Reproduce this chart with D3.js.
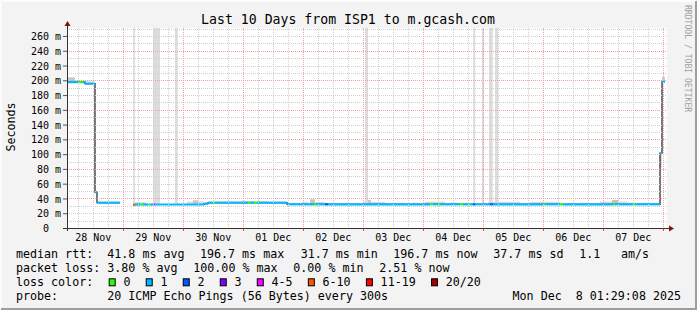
<!DOCTYPE html>
<html>
<head>
<meta charset="utf-8">
<script src="https://cdn.jsdelivr.net/npm/d3@7"></script>
<style>
  body { margin: 0; background: #f3f3f3; }
  svg { display: block; }
  text { font-family: "DejaVu Sans Mono", monospace; white-space: pre; }
</style>
</head>
<body>
<svg id="chart" width="697" height="310"></svg>
<script>
// smokeping style graph, last 10 days

const END_TIME = Date.UTC(2025, 11, 8, 1, 29, 8);
const START_TIME = END_TIME - 10 * 24 * 3600e3;

// median rtt as steps: hours since start, value in ms (null = no data), loss bucket
const stepHours  = [0, 4.8, 6.4, 7.2, 11.2, 12.0, 21.2, 26.4, 27.2, 29.2, 30.4, 32.4, 33.2, 34.4, 35.2,
                    54.8, 56.4, 58.4, 59.2, 72.4, 73.2, 74.8, 76.0, 88.0, 98.8, 99.6, 103.2, 104.4,
                    145.2, 146.4, 148.4, 149.2, 157.2, 158.4, 160.4, 161.2, 162.4, 163.2, 169.2, 170.4,
                    190.4, 191.2, 197.2, 198.4, 218.4, 219.2, 226.4, 227.2, 237.2, 238.0, 239.2];
const stepMedian = [197.5, 197.5, 197.5, 195.5, 48.5, 34.3, null, 31.5, 31.8, 31.8, 31.8, 31.8, 31.8, 31.8, 31.8,
                    33.0, 34.3, 34.3, 34.3, 34.3, 34.3, 34.3, 34.3, 32.1, 32.1, 32.1, 32.1, 32.1,
                    32.1, 32.1, 32.1, 32.1, 32.1, 32.1, 32.1, 32.1, 32.1, 32.1, 32.1, 32.1,
                    32.1, 32.1, 32.1, 32.1, 32.1, 32.1, 32.1, 32.1, 101.5, 198, null];
const stepLoss   = [1, 0, 1, 1, 1, 1, 1, 5, 1, 0, 1, 0, 1, 4, 1,
                    1, 1, 0, 1, 0, 1, 0, 1, 1, 0, 1, 2, 1,
                    0, 1, 0, 1, 0, 1, 0, 1, 2, 1, 2, 1,
                    0, 1, 0, 1, 0, 1, 0, 1, 1, 1, 1];

// smoke: [from hour, to hour, low ms, high ms, grey]
const smoke = [
  [0, 3.2, 197.5, 204, "#c8c8c8"], [3.2, 11.2, 197, 200, "#e2e2e2"],
  [26.4, 31.6, 31.8, 35, "#d8d8d8"], [26.5, 27.2, 33, 1000, "#dcdcdc"],
  [34.4, 37.2, 33, 1000, "#dcdcdc"], [43.2, 44.3, 33, 1000, "#dcdcdc"],
  [48, 54.8, 31.8, 36, "#e0e0e0"], [50.4, 52.4, 33, 37.5, "#c8c8c8"],
  [70, 80, 34.3, 36.5, "#e4e4e4"],
  [93.9, 96.5, 32.1, 35.6, "#e0e0e0"], [97.2, 99.2, 32.1, 38.9, "#c4c4c4"],
  [99.2, 103.2, 32.1, 35.4, "#d8d8d8"], [118.4, 127.2, 32.1, 35.5, "#dcdcdc"],
  [119.2, 121.6, 32.1, 38, "#c8c8c8"], [119.2, 120.4, 33, 1000, "#dcdcdc"],
  [133.2, 134.4, 32.1, 34.5, "#e4e4e4"], [138.4, 140, 32.1, 34.5, "#e4e4e4"],
  [143.2, 151.2, 32.1, 35.6, "#d6d6d6"], [153.2, 156, 32.1, 34.5, "#e4e4e4"],
  [162.5, 163.3, 33, 1000, "#dcdcdc"], [166, 166.8, 33, 1000, "#dcdcdc"],
  [168.8, 170.3, 33, 1000, "#dcdcdc"], [171.2, 172.4, 33, 1000, "#dcdcdc"],
  [168.4, 181.2, 32.1, 35.6, "#dadada"], [185.2, 197.2, 32.1, 35.6, "#dcdcdc"],
  [205.2, 207.2, 32.1, 34.5, "#e4e4e4"], [213.2, 224, 32.1, 36, "#dcdcdc"],
  [218, 220.4, 32.1, 38, "#c0c0c0"], [222.4, 226.4, 32.1, 34.5, "#e4e4e4"],
  [230.4, 232, 32.1, 34.5, "#e4e4e4"],
  [237.2, 238.0, 82, 100, "#dedede"], [238.0, 239.2, 198, 205, "#d0d0d0"]
];

const lossLabels = ["0", "1", "2", "3", "4-5", "6-10", "11-19", "20/20"];
const lossColors = ["#26ff00", "#00b8ff", "#0059ff", "#7e00ff", "#ff00ff", "#ff5500", "#ff0000", "#a10000"];

const Y_MAX = 270.8;
const yLabelTicks = d3.range(0, 261, 20);

const TITLE = "Last 10 Days from ISP1 to m.gcash.com";
const legendRows = [
  [["median rtt:", 16], ["41.8 ms avg", 107.3], ["196.7 ms max", 200], ["31.7 ms min", 300.7],
   ["196.7 ms now", 393.3], ["37.7 ms sd", 493.3], ["1.1", 579.3], ["am/s", 621]],
  [["packet loss:", 16], ["3.80 % avg", 107.3], ["100.00 % max", 193.3], ["0.00 % min", 293.3],
   ["2.51 % now", 379.3]],
  [["loss color:", 16]],
  [["probe:", 16], ["20 ICMP Echo Pings (56 Bytes) every 300s", 107.3]]
];
const DATE_STAMP = "Mon Dec  8 01:29:08 2025";

// layout
const X0 = 67, X1 = 667, Y0 = 228, Y1 = 28;
const CHAR_W = 7.02;
const LEGEND_FONT = "11.67px";
const AXIS_FONT = "10px";
const ROW_Y = [258.3, 272.2, 286, 300];

const svg = d3.select('#chart');
const hourDate = h => new Date(START_TIME + h * 3600e3);
const x = d3.scaleUtc().domain([START_TIME, END_TIME]).range([X0, X1]);
const y = d3.scaleLinear().domain([0, Y_MAX]).range([Y0, Y1]);
const crisp = v => Math.round(v) + 0.5;

// frame
svg.append('rect').attr('width', 697).attr('height', 310).attr('fill', '#f3f3f3');
svg.append('path').attr('d', 'M1,309V1H696').attr('fill', 'none').attr('stroke', '#fcfcfc').attr('stroke-width', 2);
svg.append('path').attr('d', 'M1,309H696V1').attr('fill', 'none').attr('stroke', '#9e9e9e').attr('stroke-width', 2);

// canvas
svg.append('rect').attr('x', X0).attr('y', Y1).attr('width', X1 - X0).attr('height', Y0 - Y1).attr('fill', '#ffffff');
svg.append('clipPath').attr('id', 'plotclip')
  .append('rect').attr('x', X0).attr('y', Y1).attr('width', X1 - X0).attr('height', Y0 - Y1);

const plot = svg.append('g').attr('clip-path', 'url(#plotclip)');

// smoke
plot.selectAll('.smoke')
  .data(smoke)
  .enter()
  .append('rect')
  .attr('class', 'smoke')
  .attr('x', d => x(hourDate(d[0])))
  .attr('width', d => x(hourDate(d[1])) - x(hourDate(d[0])))
  .attr('y', d => y(d[3]))
  .attr('height', d => y(d[2]) - y(d[3]))
  .attr('fill', d => d[4]);

// grid
const grid = svg.append('g').attr('stroke-dasharray', '1,1').attr('shape-rendering', 'crispEdges');
const dayTicks = d3.utcDay.range(new Date(START_TIME), new Date(END_TIME));
const minorTimes = d3.utcHour.every(6).range(new Date(START_TIME), new Date(END_TIME))
  .filter(t => t.getUTCHours() !== 0);

grid.selectAll('.vminor').data(minorTimes).enter().append('line')
  .attr('x1', d => crisp(x(d))).attr('x2', d => crisp(x(d)))
  .attr('y1', Y1).attr('y2', Y0)
  .attr('stroke', '#cfcfcf');

const hMinor = d3.range(10, 271, 10).filter(v => v % 40 !== 0);
grid.selectAll('.hminor').data(hMinor).enter().append('line')
  .attr('x1', X0).attr('x2', X1)
  .attr('y1', d => crisp(y(d))).attr('y2', d => crisp(y(d)))
  .attr('stroke', '#cfcfcf');

grid.selectAll('.vmajor').data(dayTicks).enter().append('line')
  .attr('x1', d => crisp(x(d))).attr('x2', d => crisp(x(d)))
  .attr('y1', Y1).attr('y2', Y0)
  .attr('stroke', '#f2a0a0');

grid.selectAll('.hmajor').data(d3.range(40, 261, 40)).enter().append('line')
  .attr('x1', X0).attr('x2', X1)
  .attr('y1', d => crisp(y(d))).attr('y2', d => crisp(y(d)))
  .attr('stroke', '#f2a0a0');

// median: thin dark line with the steps, coloured by loss on top
const medianPts = [];
stepHours.forEach((h, i) => {
  if (i === stepHours.length - 1) return;
  const v = stepMedian[i];
  if (v == null) { medianPts.push(null); return; }
  medianPts.push([h, v], [stepHours[i + 1], v]);
});
const medianLine = d3.line()
  .defined(d => d != null)
  .x(d => x(hourDate(d[0])))
  .y(d => y(d[1]));
plot.append('path')
  .attr('d', medianLine(medianPts))
  .attr('fill', 'none')
  .attr('stroke', '#202020')
  .attr('stroke-width', 1.2);

const segments = stepHours.slice(0, -1)
  .map((h, i) => ({ t0: h, t1: stepHours[i + 1], v: stepMedian[i], loss: stepLoss[i] }))
  .filter(s => s.v != null);
plot.selectAll('.seg')
  .data(segments)
  .enter()
  .append('line')
  .attr('class', 'seg')
  .attr('x1', d => x(hourDate(d.t0)))
  .attr('x2', d => x(hourDate(d.t1)))
  .attr('y1', d => y(d.v))
  .attr('y2', d => y(d.v))
  .attr('stroke', d => lossColors[d.loss])
  .attr('stroke-width', 2.2);

// axes
const yAxis = svg.append('g')
  .attr('transform', `translate(${X0},0)`)
  .call(d3.axisLeft(y).tickValues(yLabelTicks).tickSize(4).tickPadding(2)
    .tickFormat(d => d === 0 ? '0\u00a0\u00a0' : d + '\u00a0m'));
yAxis.select('.domain').remove();
yAxis.selectAll('line').attr('stroke', '#555');
yAxis.selectAll('text').attr('font-size', AXIS_FONT).attr('fill', '#000')
  .attr('font-family', '"DejaVu Sans Mono", monospace').attr('dy', '0.36em');

svg.selectAll('.xtick').data(dayTicks).enter().append('line')
  .attr('x1', d => crisp(x(d))).attr('x2', d => crisp(x(d)))
  .attr('y1', Y0).attr('y2', Y0 + 3)
  .attr('stroke', '#ff4040');

// day labels sit at noon
const labelTimes = d3.utcDay.range(new Date(START_TIME), new Date(END_TIME))
  .map(d => d3.utcHour.offset(d, -12))
  .filter(d => d > START_TIME);
svg.selectAll('.xlabel').data(labelTimes)
  .enter().append('text')
  .attr('x', d => x(d))
  .attr('y', 241)
  .attr('text-anchor', 'middle')
  .attr('font-size', AXIS_FONT)
  .text(d3.utcFormat('%d %b'));

svg.append('line').attr('x1', X0 - 4).attr('x2', X1 + 2).attr('y1', Y0 + 0.5).attr('y2', Y0 + 0.5)
  .attr('stroke', '#333');
svg.append('line').attr('x1', X0 + 0.5).attr('x2', X0 + 0.5).attr('y1', Y0 + 3).attr('y2', Y1 - 3)
  .attr('stroke', '#333');
svg.append('path').attr('d', `M${X0 + 0.5},${Y1 - 7}L${X0 + 3.5},${Y1 - 2}L${X0 - 2.5},${Y1 - 2}Z`).attr('fill', '#7f1010');
svg.append('path').attr('d', `M${X1 + 7},${Y0 + 0.5}L${X1 + 2},${Y0 + 3.5}L${X1 + 2},${Y0 - 2.5}Z`).attr('fill', '#7f1010');

// title, labels
svg.append('text').attr('x', 348).attr('y', 24).attr('text-anchor', 'middle')
  .attr('font-size', '13.2px').text(TITLE);
svg.append('text').attr('transform', 'translate(15,127) rotate(-90)').attr('text-anchor', 'middle')
  .attr('font-size', LEGEND_FONT).text('Seconds');
svg.append('text').attr('transform', 'translate(685,5) rotate(90)')
  .attr('font-size', '8.1px').attr('fill', '#a0a0a0').text('RRDTOOL / TOBI OETIKER');

// legend
legendRows.forEach((row, r) => {
  svg.selectAll(null).data(row).enter().append('text')
    .attr('x', d => d[1])
    .attr('y', ROW_Y[r])
    .attr('font-size', LEGEND_FONT)
    .text(d => d[0]);
});

let lx = 109.2;
lossLabels.forEach((lab, i) => {
  svg.append('rect').attr('x', lx).attr('y', 278.8).attr('width', 6).attr('height', 7)
    .attr('fill', lossColors[i]).attr('stroke', '#000').attr('stroke-width', 1);
  svg.append('text').attr('x', lx + 14.2).attr('y', ROW_Y[2]).attr('font-size', LEGEND_FONT).text(lab);
  lx += 30 + lab.length * CHAR_W;
});

svg.append('text').attr('x', 681).attr('y', ROW_Y[3]).attr('text-anchor', 'end')
  .attr('font-size', LEGEND_FONT).text(DATE_STAMP);
</script>
</body>
</html>
